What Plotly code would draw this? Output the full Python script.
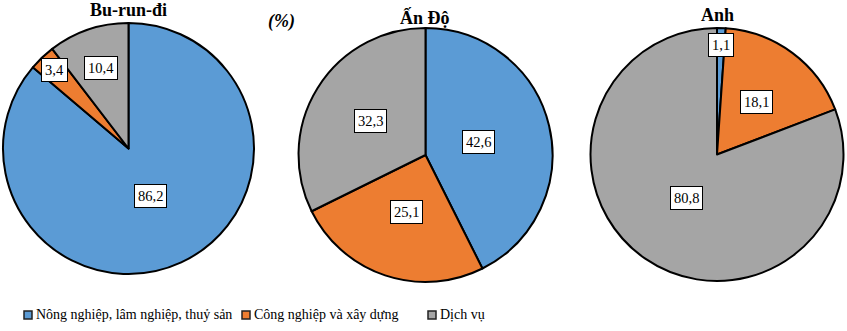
import math
import plotly.graph_objects as go

# Cơ cấu GDP theo khu vực kinh tế (%)
countries = ["Bu-run-đi", "Ấn Độ", "Anh"]
sectors = ["Nông nghiệp, lâm nghiệp, thuỷ sản", "Công nghiệp và xây dựng", "Dịch vụ"]
burundi = [86.2, 3.4, 10.4]
an_do = [42.6, 25.1, 32.3]
anh = [1.1, 18.1, 80.8]
series = [burundi, an_do, anh]

colors = ["#5B9BD5", "#ED7D31", "#A5A5A5"]
SERIF = "'Liberation Serif', 'Times New Roman', Times, serif"

W, H = 847, 331
# pie placement in pixels: (center x, center y, radius)
pie_boxes = [(128.5, 148.5, 125.5), (425.5, 155.0, 127.0), (717.0, 154.5, 126.5)]
# radial position of each data label as a fraction of the radius
label_frac = [[0.42, 0.86, 0.68], [0.43, 0.47, 0.51], [0.87, 0.52, 0.42]]
title_y = [10, 17, 15]

fig = go.Figure()
annotations = []


def px(x):
    return x / W


def py(y):
    return 1 - y / H


for i, (vals, (cx, cy, r)) in enumerate(zip(series, pie_boxes)):
    fig.add_trace(go.Pie(
        labels=sectors,
        values=vals,
        sort=False,
        direction="clockwise",
        rotation=0,
        marker=dict(colors=colors, line=dict(color="black", width=2)),
        textinfo="none",
        hoverinfo="label+value",
        showlegend=False,
        domain=dict(x=[px(cx - r), px(cx + r)], y=[py(cy + r), py(cy - r)]),
    ))
    total = sum(vals)
    start = 0.0
    for j, v in enumerate(vals):
        mid = (start + v / 2) / total * 2 * math.pi
        start += v
        f = label_frac[i][j]
        lx = cx + f * r * math.sin(mid)
        ly = cy - f * r * math.cos(mid)
        annotations.append(dict(
            x=px(lx), y=py(ly), xref="paper", yref="paper",
            text=f"{v:.1f}".replace(".", ","), showarrow=False,
            font=dict(family=SERIF, size=14.5, color="black"),
            bgcolor="white", bordercolor="black", borderwidth=1, borderpad=3,
            xanchor="center", yanchor="middle",
        ))
    annotations.append(dict(
        x=px(cx), y=py(title_y[i]), xref="paper", yref="paper",
        text=f"<b>{countries[i]}</b>", showarrow=False,
        font=dict(family=SERIF, size=18, color="black"),
        xanchor="center", yanchor="middle",
    ))

annotations.append(dict(
    x=px(281), y=py(21), xref="paper", yref="paper",
    text="<b><i>(%)</i></b>", showarrow=False,
    font=dict(family=SERIF, size=18, color="black"),
    xanchor="center", yanchor="middle",
))

# legend drawn below the pies
legend_x = [28, 246, 432]
legend_y = 315
shapes = []
for k, name in enumerate(sectors):
    x0 = legend_x[k]
    shapes.append(dict(
        type="rect", xref="paper", yref="paper",
        x0=px(x0 - 4), x1=px(x0 + 4), y0=py(legend_y + 4), y1=py(legend_y - 4),
        fillcolor=colors[k], line=dict(color="#222222", width=1.5),
    ))
    annotations.append(dict(
        x=px(x0 + 6), y=py(legend_y - 0.5), xref="paper", yref="paper",
        text=name, showarrow=False,
        font=dict(family=SERIF, size=14, color="black"),
        xanchor="left", yanchor="middle",
    ))

fig.update_layout(
    width=W, height=H,
    margin=dict(l=0, r=0, t=0, b=0),
    paper_bgcolor="white", plot_bgcolor="white",
    annotations=annotations, shapes=shapes,
    showlegend=False,
)

fig.write_html("out.html")
